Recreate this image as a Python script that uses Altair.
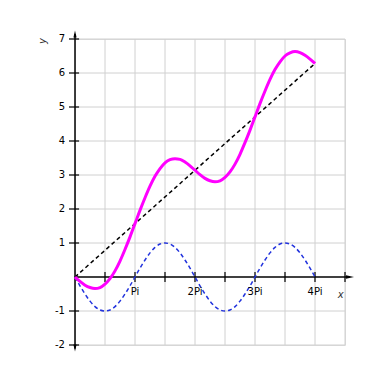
import altair as alt
import pandas as pd

# x positions in units of Pi
x_pi = [0, .083, .167, .25, .333, .417, .5, .583, .667, .75, .833, .917,
        1, 1.083, 1.167, 1.25, 1.333, 1.417, 1.5, 1.583, 1.667, 1.75, 1.833, 1.917,
        2, 2.083, 2.167, 2.25, 2.333, 2.417, 2.5, 2.583, 2.667, 2.75, 2.833, 2.917,
        3, 3.083, 3.167, 3.25, 3.333, 3.417, 3.5, 3.583, 3.667, 3.75, 3.833, 3.917, 4]

magenta_y = [0, -0.13, -0.24, -0.31, -0.34, -0.31, -0.21, -0.05, 0.18, 0.47, 0.81, 1.18,
             1.57, 1.96, 2.33, 2.67, 2.96, 3.19, 3.36, 3.45, 3.48, 3.46, 3.38, 3.27,
             3.14, 3.01, 2.90, 2.83, 2.80, 2.83, 2.93, 3.09, 3.32, 3.61, 3.95, 4.32,
             4.71, 5.10, 5.47, 5.81, 6.10, 6.33, 6.50, 6.59, 6.63, 6.60, 6.52, 6.41, 6.28]

blue_y = [0, -0.26, -0.5, -0.71, -0.87, -0.97, -1, -0.97, -0.87, -0.71, -0.5, -0.26,
          0, 0.26, 0.5, 0.71, 0.87, 0.97, 1, 0.97, 0.87, 0.71, 0.5, 0.26,
          0, -0.26, -0.5, -0.71, -0.87, -0.97, -1, -0.97, -0.87, -0.71, -0.5, -0.26,
          0, 0.26, 0.5, 0.71, 0.87, 0.97, 1, 0.97, 0.87, 0.71, 0.5, 0.26, 0]

line_x = [0, 4]
line_y = [0, 6.28]

grid_x = [0.5, 1, 1.5, 2, 2.5, 3, 3.5, 4, 4.5]
grid_y = [-2, -1, 1, 2, 3, 4, 5, 6, 7]

xtick_vals = [0.5, 1, 1.5, 2, 2.5, 3, 3.5, 4, 4.5]
xlabel_vals = [1, 2, 3, 4]
xlabel_text = ["Pi", "2Pi", "3Pi", "4Pi"]
ylabel_vals = [7, 6, 5, 4, 3, 2, 1, -1, -2]
ylabel_text = ["7", "6", "5", "4", "3", "2", "1", "-1", "-2"]

FONT = "DejaVu Sans"
xs = alt.Scale(domain=[0, 4.5], nice=False, zero=False)
ys = alt.Scale(domain=[-2, 7], nice=False, zero=False)


def X(f="x"):
    return alt.X(f + ":Q", scale=xs, axis=None)


def Y(f="y"):
    return alt.Y(f + ":Q", scale=ys, axis=None)


# grid
vgrid = alt.Chart(pd.DataFrame({"x": grid_x})).transform_calculate(
    y="-2", y2="7").mark_rule(color="#d0d0d0", strokeWidth=1).encode(
    x=X(), y=Y(), y2="y2:Q")
hgrid = alt.Chart(pd.DataFrame({"y": grid_y})).transform_calculate(
    x="0", x2="4.5").mark_rule(color="#d0d0d0", strokeWidth=1).encode(
    x=X(), x2="x2:Q", y=Y())

# axes lines
xaxis = alt.Chart(pd.DataFrame({"x": [0], "x2": [4.58], "y": [0]})).mark_rule(
    color="black", strokeWidth=1.5).encode(x=X(), x2="x2:Q", y=Y())
yaxis = alt.Chart(pd.DataFrame({"x": [0], "y": [-2.1], "y2": [7.15]})).mark_rule(
    color="black", strokeWidth=1.5).encode(x=X(), y=Y(), y2="y2:Q")

xticks = alt.Chart(pd.DataFrame({"x": xtick_vals})).transform_calculate(
    y="-0.15", y2="0.15").mark_rule(color="black", strokeWidth=1.2).encode(
    x=X(), y=Y(), y2="y2:Q")
yticks = alt.Chart(pd.DataFrame({"y": grid_y})).transform_calculate(
    x="-0.1", x2="0.068").mark_rule(color="black", strokeWidth=1.2).encode(
    x=X(), x2="x2:Q", y=Y())

# arrows
arrow_r = alt.Chart(pd.DataFrame({"x": [4.583], "y": [0]})).mark_point(
    shape="M-1,-0.45L1,0L-1,0.45Z", filled=True, color="black", opacity=1, size=64,
    strokeWidth=0).encode(x=X(), y=Y())
arrow_u = alt.Chart(pd.DataFrame({"x": [0], "y": [7.15]})).mark_point(
    shape="M-0.45,1L0,-1L0.45,1Z", filled=True, color="black", opacity=1, size=49,
    strokeWidth=0).encode(x=X(), y=Y())
arrow_d = alt.Chart(pd.DataFrame({"x": [0], "y": [-2.09]})).mark_point(
    shape="M-0.45,-1L0,1L0.45,-1Z", filled=True, color="black", opacity=1, size=49,
    strokeWidth=0).encode(x=X(), y=Y())

# labels
xlabels = alt.Chart(pd.DataFrame({"x": xlabel_vals, "t": xlabel_text, "y": [0] * 4})).mark_text(
    font=FONT, fontSize=10, color="black", align="center", baseline="middle", dy=15
).encode(x=X(), y=Y(), text="t:N")
ylabels = alt.Chart(pd.DataFrame({"y": ylabel_vals, "t": ylabel_text, "x": [0] * 9})).mark_text(
    font=FONT, fontSize=10, color="black", align="right", baseline="middle", dx=-10
).encode(x=X(), y=Y(), text="t:N")
xtitle = alt.Chart(pd.DataFrame({"x": [4.43], "y": [-0.53], "t": ["x"]})).mark_text(
    font=FONT, fontSize=10, fontStyle="italic", color="#333", align="center",
    baseline="middle").encode(x=X(), y=Y(), text="t:N")
ytitle = alt.Chart(pd.DataFrame({"x": [-0.53], "y": [6.94], "t": ["y"]})).mark_text(
    font=FONT, fontSize=10, fontStyle="italic", color="#333", align="center",
    baseline="middle", angle=270).encode(x=X(), y=Y(), text="t:N")

# curves
blue = alt.Chart(pd.DataFrame({"x": x_pi, "y": blue_y})).mark_line(
    color="#2233dd", strokeWidth=1.5, strokeDash=[4, 3], interpolate="monotone"
).encode(x=X(), y=Y())
black = alt.Chart(pd.DataFrame({"x": line_x, "y": line_y})).mark_line(
    color="black", strokeWidth=1.5, strokeDash=[4, 3]).encode(x=X(), y=Y())
magenta = alt.Chart(pd.DataFrame({"x": x_pi, "y": magenta_y})).mark_line(
    color="#ff00ff", strokeWidth=3, interpolate="monotone").encode(x=X(), y=Y())

chart = alt.layer(
    vgrid, hgrid, xaxis, yaxis, xticks, yticks, blue, black, magenta,
    arrow_r, arrow_u, arrow_d, xlabels, ylabels, xtitle, ytitle
).properties(
    width=270, height=306,
    autosize=alt.AutoSizeParams(type="none"),
    padding={"left": 67, "top": 31, "right": 30, "bottom": 30},
).configure_view(stroke=None).configure(background="white")

chart.save("out.html", embed_options={"renderer": "svg", "actions": False})
